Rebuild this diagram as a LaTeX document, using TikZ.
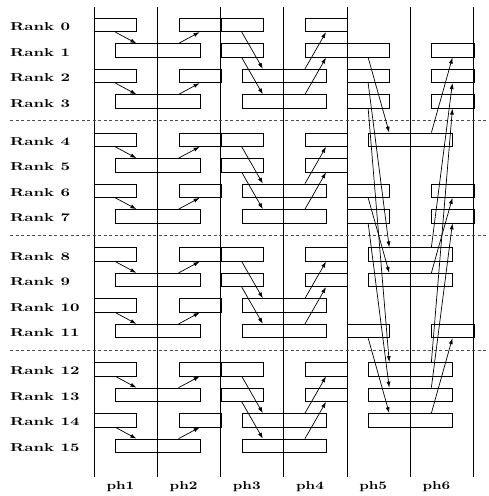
\documentclass[tikz,border=0pt]{standalone}
\usepackage{graphicx}
\usetikzlibrary{arrows.meta}
\newcommand{\ranktxt}[1]{\scalebox{1.65}[1.15]{\bfseries #1}}
\newcommand{\phtxt}[1]{\scalebox{1.5}[1.15]{\bfseries #1}}
\begin{document}
\begin{tikzpicture}[x=1pt,y=-1pt,
  cell/.style={draw, line width=0.8pt, rectangle, inner sep=0pt, minimum height=13.4pt, anchor=west},
  shortcell/.style={cell, minimum width=42.133pt},
  longcell/.style={cell, minimum width=84.267pt},
  arr/.style={-{Latex[length=6pt,width=4pt]}, line width=0.7pt},
  phaseline/.style={line width=1.1pt},
  groupsep/.style={dash pattern=on 3pt off 2.5pt, line width=0.6pt, black!70},
  ranklbl/.style={anchor=base west, inner sep=0pt},
  phlbl/.style={inner sep=0pt}]
\useasboundingbox (0,0) rectangle (488,496);
\def\W{63.2}
\def\X{94.3}
\def\Wt{21.067}
\def\Ws{42.133}
% phase separator lines
\foreach \k in {0,...,6}{
  \draw[phaseline] (\X+\k*\W,7) -- (\X+\k*\W,477);
}
% group separators
\foreach \g in {1,2,3}{
  \draw[groupsep] (10,{25+25.5*(4.5*\g-0.75)}) -- (486,{25+25.5*(4.5*\g-0.75)});
}
% phase labels
\foreach \k in {1,...,6}{
  \node[phlbl] (ph\k) at ({\X+(\k-1)*\W+\W/2-5.5},487) {\phtxt{ph\k}};
}
% boxes
\foreach \r in {0,...,15}{
  \pgfmathtruncatemacro\g{floor(\r/4)}
  \pgfmathtruncatemacro\l{mod(\r,4)}
  \pgfmathsetmacro\y{25+25.5*(\r+0.5*\g)}
  \node[ranklbl] (lab\r) at (10,\y+5.7) {\ranktxt{Rank \r}};
  % phases 1-2
  \ifodd\l
    \node[longcell] (p12-\r) at (\X+\Wt,\y) {};
  \else
    \node[shortcell] (p1-\r) at (\X,\y) {};
    \node[shortcell] (p2-\r) at (\X+\W+\Wt,\y) {};
  \fi
  % phases 3-4
  \ifnum\l<2
    \node[shortcell] (p3-\r) at (\X+2*\W,\y) {};
    \node[shortcell] (p4-\r) at (\X+3*\W+\Wt,\y) {};
  \else
    \node[longcell] (p34-\r) at (\X+2*\W+\Wt,\y) {};
  \fi
  % phases 5-6
  \ifnum\l>\g
    \node[shortcell] (p5-\r) at (\X+4*\W,\y) {};
    \node[shortcell] (p6-\r) at (\X+5*\W+\Wt,\y) {};
  \else\ifnum\l<\g
    \node[longcell] (p56-\r) at (\X+4*\W+\Wt,\y) {};
  \fi\fi
}
% arrows
\foreach \r in {0,...,15}{
  \pgfmathtruncatemacro\g{floor(\r/4)}
  \pgfmathtruncatemacro\l{mod(\r,4)}
  \pgfmathtruncatemacro\rn{\r+1}
  \pgfmathtruncatemacro\rt{\r+2}
  \pgfmathtruncatemacro\s{4*\l+\g}
  \ifodd\l\else
    \draw[arr] ([xshift=\Wt pt]p1-\r.south west) -- ([xshift=\Wt pt]p12-\rn.north west);
    \draw[arr] ([xshift=\W pt]p12-\rn.north west) -- ([xshift=\Wt pt]p2-\r.south west);
  \fi
  \ifnum\l<2
    \draw[arr] ([xshift=\Wt pt]p3-\r.south west) -- ([xshift=\Wt pt]p34-\rt.north west);
    \draw[arr] ([xshift=\W pt]p34-\rt.north west) -- ([xshift=\Wt pt]p4-\r.south west);
  \fi
  \ifnum\l>\g
    \draw[arr] ([xshift=\Wt pt]p5-\r.south west) -- ([xshift=\Wt pt]p56-\s.north west);
    \draw[arr] ([xshift=\W pt]p56-\s.north west) -- ([xshift=\Wt pt]p6-\r.south west);
  \fi
}
\end{tikzpicture}
\end{document}
